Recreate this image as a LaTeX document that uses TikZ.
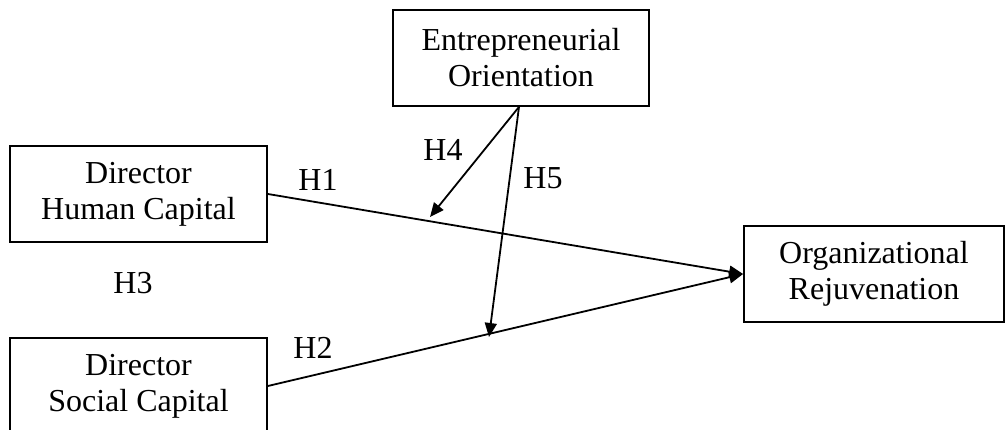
\documentclass[tikz,border=0pt]{standalone}
\usepackage{fontspec}
\setmainfont{Liberation Serif}
\usetikzlibrary{positioning,arrows.meta}
\tikzset{
  varbox/.style={draw,line width=1.8pt,align=center,inner sep=0pt},
  hlabel/.style={inner sep=0pt},
  path/.style={line width=1.8pt,-{Triangle[length=14pt,width=12pt]}}
}

\begin{document}
\begin{tikzpicture}[x=1pt,y=1pt,every node/.style={font=\fontsize{32}{36}\selectfont}]
  \useasboundingbox (0,0) rectangle (1006,430);
  % constructs
  \node[varbox,minimum width=257pt,minimum height=96pt] (hc) at (138.5,236) {Director\\Human Capital};
  \node[varbox,minimum width=257pt,minimum height=96pt] (sc) at (138.5,44) {Director\\Social Capital};
  \node[varbox,minimum width=256pt,minimum height=96pt] (eo) at (521,372) {Entrepreneurial\\Orientation};
  \node[varbox,minimum width=260pt,minimum height=96pt] (or) at (874,156) {Organizational\\Rejuvenation};
  % moderation targets on the main paths
  \coordinate (m1) at (430,213);
  \coordinate (m2) at (489,93);
  % paths
  \draw[path] (hc.east) -- (or.west);
  \draw[path] (sc.east) -- (or.west);
  \draw[path] ([xshift=-2pt]eo.south) -- (m1);
  \draw[path] ([xshift=-2pt]eo.south) -- (m2);
  % hypothesis labels
  \node[hlabel] (h1) at (318,250) {H1};
  \node[hlabel] (h2) at (313,82) {H2};
  \node[hlabel] (h3) at (133,147) {H3};
  \node[hlabel] (h4) at (443,280) {H4};
  \node[hlabel] (h5) at (543,252) {H5};
\end{tikzpicture}
\end{document}
